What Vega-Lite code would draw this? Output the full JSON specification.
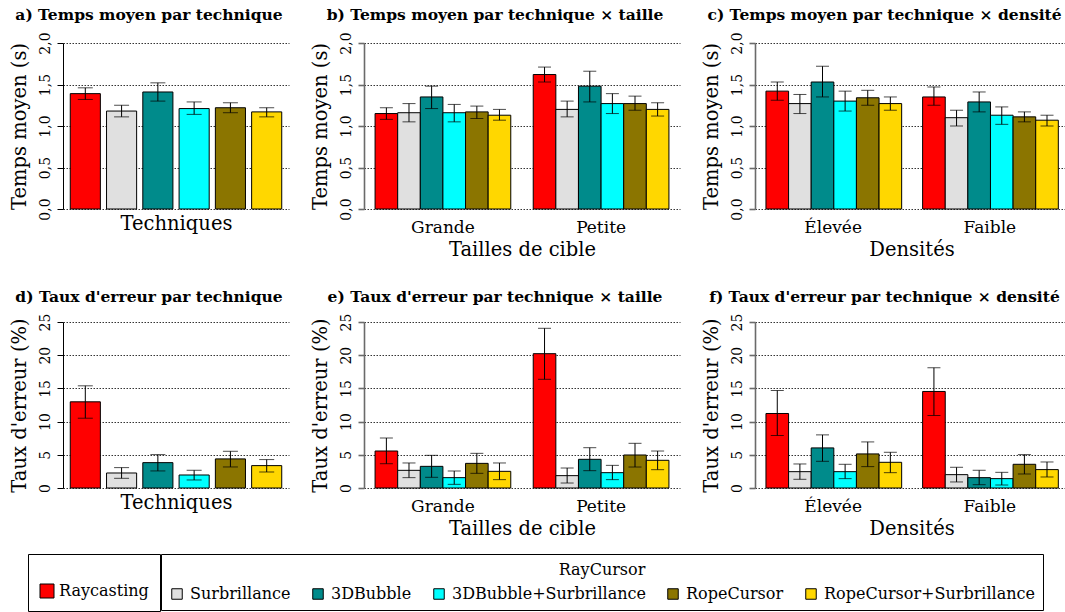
{
  "$schema": "https://vega.github.io/schema/vega-lite/v6.json",
  "padding": {"left": 8, "top": 8, "right": 0, "bottom": 0},
  "spacing": 30,
  "data": {"values": [
    {"panel": "a", "group": "Toutes", "technique": "Raycasting", "mean": 1.39, "lo": 1.32, "hi": 1.46},
    {"panel": "a", "group": "Toutes", "technique": "Surbrillance", "mean": 1.18, "lo": 1.11, "hi": 1.25},
    {"panel": "a", "group": "Toutes", "technique": "3DBubble", "mean": 1.41, "lo": 1.30, "hi": 1.52},
    {"panel": "a", "group": "Toutes", "technique": "3DBubble+Surbrillance", "mean": 1.21, "lo": 1.14, "hi": 1.29},
    {"panel": "a", "group": "Toutes", "technique": "RopeCursor", "mean": 1.22, "lo": 1.16, "hi": 1.28},
    {"panel": "a", "group": "Toutes", "technique": "RopeCursor+Surbrillance", "mean": 1.17, "lo": 1.11, "hi": 1.22},
    {"panel": "b", "group": "Grande", "technique": "Raycasting", "mean": 1.15, "lo": 1.08, "hi": 1.22},
    {"panel": "b", "group": "Grande", "technique": "Surbrillance", "mean": 1.16, "lo": 1.05, "hi": 1.27},
    {"panel": "b", "group": "Grande", "technique": "3DBubble", "mean": 1.35, "lo": 1.21, "hi": 1.48},
    {"panel": "b", "group": "Grande", "technique": "3DBubble+Surbrillance", "mean": 1.16, "lo": 1.05, "hi": 1.26},
    {"panel": "b", "group": "Grande", "technique": "RopeCursor", "mean": 1.17, "lo": 1.09, "hi": 1.24},
    {"panel": "b", "group": "Grande", "technique": "RopeCursor+Surbrillance", "mean": 1.13, "lo": 1.07, "hi": 1.20},
    {"panel": "b", "group": "Petite", "technique": "Raycasting", "mean": 1.62, "lo": 1.53, "hi": 1.71},
    {"panel": "b", "group": "Petite", "technique": "Surbrillance", "mean": 1.20, "lo": 1.11, "hi": 1.30},
    {"panel": "b", "group": "Petite", "technique": "3DBubble", "mean": 1.48, "lo": 1.29, "hi": 1.66},
    {"panel": "b", "group": "Petite", "technique": "3DBubble+Surbrillance", "mean": 1.27, "lo": 1.15, "hi": 1.39},
    {"panel": "b", "group": "Petite", "technique": "RopeCursor", "mean": 1.27, "lo": 1.19, "hi": 1.36},
    {"panel": "b", "group": "Petite", "technique": "RopeCursor+Surbrillance", "mean": 1.20, "lo": 1.12, "hi": 1.28},
    {"panel": "c", "group": "Élevée", "technique": "Raycasting", "mean": 1.42, "lo": 1.31, "hi": 1.53},
    {"panel": "c", "group": "Élevée", "technique": "Surbrillance", "mean": 1.27, "lo": 1.15, "hi": 1.38},
    {"panel": "c", "group": "Élevée", "technique": "3DBubble", "mean": 1.53, "lo": 1.35, "hi": 1.72},
    {"panel": "c", "group": "Élevée", "technique": "3DBubble+Surbrillance", "mean": 1.30, "lo": 1.18, "hi": 1.42},
    {"panel": "c", "group": "Élevée", "technique": "RopeCursor", "mean": 1.34, "lo": 1.25, "hi": 1.43},
    {"panel": "c", "group": "Élevée", "technique": "RopeCursor+Surbrillance", "mean": 1.27, "lo": 1.19, "hi": 1.35},
    {"panel": "c", "group": "Faible", "technique": "Raycasting", "mean": 1.35, "lo": 1.25, "hi": 1.47},
    {"panel": "c", "group": "Faible", "technique": "Surbrillance", "mean": 1.10, "lo": 1.00, "hi": 1.19},
    {"panel": "c", "group": "Faible", "technique": "3DBubble", "mean": 1.29, "lo": 1.17, "hi": 1.41},
    {"panel": "c", "group": "Faible", "technique": "3DBubble+Surbrillance", "mean": 1.13, "lo": 1.02, "hi": 1.23},
    {"panel": "c", "group": "Faible", "technique": "RopeCursor", "mean": 1.11, "lo": 1.05, "hi": 1.17},
    {"panel": "c", "group": "Faible", "technique": "RopeCursor+Surbrillance", "mean": 1.07, "lo": 1.00, "hi": 1.13},
    {"panel": "d", "group": "Toutes", "technique": "Raycasting", "mean": 12.98, "lo": 10.51, "hi": 15.39},
    {"panel": "d", "group": "Toutes", "technique": "Surbrillance", "mean": 2.26, "lo": 1.46, "hi": 3.07},
    {"panel": "d", "group": "Toutes", "technique": "3DBubble", "mean": 3.82, "lo": 2.57, "hi": 5.03},
    {"panel": "d", "group": "Toutes", "technique": "3DBubble+Surbrillance", "mean": 1.96, "lo": 1.21, "hi": 2.67},
    {"panel": "d", "group": "Toutes", "technique": "RopeCursor", "mean": 4.38, "lo": 3.17, "hi": 5.53},
    {"panel": "d", "group": "Toutes", "technique": "RopeCursor+Surbrillance", "mean": 3.37, "lo": 2.41, "hi": 4.28},
    {"panel": "e", "group": "Grande", "technique": "Raycasting", "mean": 5.57, "lo": 3.66, "hi": 7.53},
    {"panel": "e", "group": "Grande", "technique": "Surbrillance", "mean": 2.66, "lo": 1.56, "hi": 3.77},
    {"panel": "e", "group": "Grande", "technique": "3DBubble", "mean": 3.26, "lo": 1.61, "hi": 4.92},
    {"panel": "e", "group": "Grande", "technique": "3DBubble+Surbrillance", "mean": 1.56, "lo": 0.55, "hi": 2.56},
    {"panel": "e", "group": "Grande", "technique": "RopeCursor", "mean": 3.71, "lo": 2.21, "hi": 5.22},
    {"panel": "e", "group": "Grande", "technique": "RopeCursor+Surbrillance", "mean": 2.51, "lo": 1.26, "hi": 3.77},
    {"panel": "e", "group": "Petite", "technique": "Raycasting", "mean": 20.23, "lo": 16.37, "hi": 24.05},
    {"panel": "e", "group": "Petite", "technique": "Surbrillance", "mean": 1.86, "lo": 0.75, "hi": 3.01},
    {"panel": "e", "group": "Petite", "technique": "3DBubble", "mean": 4.32, "lo": 2.61, "hi": 6.07},
    {"panel": "e", "group": "Petite", "technique": "3DBubble+Surbrillance", "mean": 2.31, "lo": 1.26, "hi": 3.41},
    {"panel": "e", "group": "Petite", "technique": "RopeCursor", "mean": 4.97, "lo": 3.16, "hi": 6.73},
    {"panel": "e", "group": "Petite", "technique": "RopeCursor+Surbrillance", "mean": 4.17, "lo": 2.76, "hi": 5.57},
    {"panel": "f", "group": "Élevée", "technique": "Raycasting", "mean": 11.22, "lo": 7.90, "hi": 14.69},
    {"panel": "f", "group": "Élevée", "technique": "Surbrillance", "mean": 2.46, "lo": 1.31, "hi": 3.62},
    {"panel": "f", "group": "Élevée", "technique": "3DBubble", "mean": 6.04, "lo": 4.02, "hi": 8.00},
    {"panel": "f", "group": "Élevée", "technique": "3DBubble+Surbrillance", "mean": 2.46, "lo": 1.41, "hi": 3.57},
    {"panel": "f", "group": "Élevée", "technique": "RopeCursor", "mean": 5.13, "lo": 3.22, "hi": 6.94},
    {"panel": "f", "group": "Élevée", "technique": "RopeCursor+Surbrillance", "mean": 3.87, "lo": 2.31, "hi": 5.38},
    {"panel": "f", "group": "Faible", "technique": "Raycasting", "mean": 14.54, "lo": 10.92, "hi": 18.11},
    {"panel": "f", "group": "Faible", "technique": "Surbrillance", "mean": 2.01, "lo": 0.91, "hi": 3.12},
    {"panel": "f", "group": "Faible", "technique": "3DBubble", "mean": 1.56, "lo": 0.50, "hi": 2.67},
    {"panel": "f", "group": "Faible", "technique": "3DBubble+Surbrillance", "mean": 1.41, "lo": 0.45, "hi": 2.36},
    {"panel": "f", "group": "Faible", "technique": "RopeCursor", "mean": 3.57, "lo": 2.11, "hi": 5.03},
    {"panel": "f", "group": "Faible", "technique": "RopeCursor+Surbrillance", "mean": 2.77, "lo": 1.66, "hi": 3.92}
  ]},
  "vconcat": [
    {"spacing": 20, "hconcat": [
      {
        "title": "a) Temps moyen par technique",
        "width": 226, "height": 166,
        "transform": [{"filter": "datum.panel == 'a'"}],
        "encoding": {
          "x": {"field": "technique", "type": "nominal", "scale": {"domain": ["Raycasting", "Surbrillance", "3DBubble", "3DBubble+Surbrillance", "RopeCursor", "RopeCursor+Surbrillance"], "paddingInner": 0.17, "paddingOuter": 0.2}, "axis": {"title": "Techniques", "labels": false, "titlePadding": 5}}
        },
        "layer": [
          {"transform": [{"filter": "datum.technique == 'Raycasting'"}], "mark": {"type": "bar", "stroke": "black", "strokeWidth": 1},
           "encoding": {"y": {"field": "mean", "type": "quantitative", "title": "Temps moyen (s)", "scale": {"domain": [0, 2]}, "axis": {"values": [0, 0.5, 1, 1.5, 2], "labelExpr": "replace(format(datum.value, '.1f'), '.', ',')"}},
             "fill": {"field": "technique", "type": "nominal", "scale": {"domain": ["Raycasting"], "range": ["#FF0000"]}, "legend": {"orient": "none", "legendX": -35, "legendY": 511, "title": " ", "padding": 11, "titlePadding": 2, "symbolSize": 196, "labelOffset": 4}}}},
          {"transform": [{"filter": "datum.technique != 'Raycasting'"}], "mark": {"type": "bar", "stroke": "black", "strokeWidth": 1},
           "encoding": {"y": {"field": "mean", "type": "quantitative", "title": "Temps moyen (s)", "scale": {"domain": [0, 2]}, "axis": {"values": [0, 0.5, 1, 1.5, 2], "labelExpr": "replace(format(datum.value, '.1f'), '.', ',')"}},
             "color": {"field": "technique", "type": "nominal", "scale": {"domain": ["Surbrillance", "3DBubble", "3DBubble+Surbrillance", "RopeCursor", "RopeCursor+Surbrillance"], "range": ["#E0E0E0", "#008B8B", "#00FFFF", "#8B7500", "#FFD700"]}, "legend": {"orient": "none", "legendX": 98, "legendY": 511, "title": "RayCursor", "direction": "horizontal", "columns": 5}}}},
          {"mark": {"type": "rule", "color": "black", "strokeWidth": 1}, "encoding": {"y": {"field": "lo", "type": "quantitative", "title": "Temps moyen (s)", "scale": {"domain": [0, 2]}, "axis": {"values": [0, 0.5, 1, 1.5, 2], "labelExpr": "replace(format(datum.value, '.1f'), '.', ',')"}}, "y2": {"field": "hi"}}},
          {"mark": {"type": "tick", "color": "black", "size": 15, "thickness": 1}, "encoding": {"y": {"field": "lo", "type": "quantitative", "title": "Temps moyen (s)", "scale": {"domain": [0, 2]}, "axis": {"values": [0, 0.5, 1, 1.5, 2], "labelExpr": "replace(format(datum.value, '.1f'), '.', ',')"}}}},
          {"mark": {"type": "tick", "color": "black", "size": 15, "thickness": 1}, "encoding": {"y": {"field": "hi", "type": "quantitative", "title": "Temps moyen (s)", "scale": {"domain": [0, 2]}, "axis": {"values": [0, 0.5, 1, 1.5, 2], "labelExpr": "replace(format(datum.value, '.1f'), '.', ',')"}}}}
        ]
      },
      {
        "title": "b) Temps moyen par technique × taille",
        "width": 316, "height": 166,
        "transform": [{"filter": "datum.panel == 'b'"}],
        "encoding": {
          "x": {"field": "group", "type": "nominal", "scale": {"domain": ["Grande", "Petite"], "paddingInner": 0.142, "paddingOuter": 0.07}, "axis": {"title": "Tailles de cible"}},
          "xOffset": {"field": "technique", "type": "nominal", "scale": {"domain": ["Raycasting", "Surbrillance", "3DBubble", "3DBubble+Surbrillance", "RopeCursor", "RopeCursor+Surbrillance"], "paddingInner": 0, "paddingOuter": 0}}
        },
        "layer": [
          {"transform": [{"filter": "datum.technique == 'Raycasting'"}], "mark": {"type": "bar", "stroke": "black", "strokeWidth": 1},
           "encoding": {"y": {"field": "mean", "type": "quantitative", "title": "Temps moyen (s)", "scale": {"domain": [0, 2]}, "axis": {"values": [0, 0.5, 1, 1.5, 2], "labelExpr": "replace(format(datum.value, '.1f'), '.', ',')", "domainColor": "#6a6a6a", "tickColor": "#6a6a6a", "domainWidth": 1.6, "tickWidth": 1.6}},
             "fill": {"field": "technique", "type": "nominal", "scale": {"domain": ["Raycasting"], "range": ["#FF0000"]}, "legend": {"orient": "none", "legendX": -35, "legendY": 511, "title": " ", "padding": 11, "titlePadding": 2, "symbolSize": 196, "labelOffset": 4}}}},
          {"transform": [{"filter": "datum.technique != 'Raycasting'"}], "mark": {"type": "bar", "stroke": "black", "strokeWidth": 1},
           "encoding": {"y": {"field": "mean", "type": "quantitative", "title": "Temps moyen (s)", "scale": {"domain": [0, 2]}, "axis": {"values": [0, 0.5, 1, 1.5, 2], "labelExpr": "replace(format(datum.value, '.1f'), '.', ',')", "domainColor": "#6a6a6a", "tickColor": "#6a6a6a", "domainWidth": 1.6, "tickWidth": 1.6}},
             "color": {"field": "technique", "type": "nominal", "scale": {"domain": ["Surbrillance", "3DBubble", "3DBubble+Surbrillance", "RopeCursor", "RopeCursor+Surbrillance"], "range": ["#E0E0E0", "#008B8B", "#00FFFF", "#8B7500", "#FFD700"]}, "legend": {"orient": "none", "legendX": 98, "legendY": 511, "title": "RayCursor", "direction": "horizontal", "columns": 5}}}},
          {"mark": {"type": "rule", "color": "black", "strokeWidth": 1}, "encoding": {"y": {"field": "lo", "type": "quantitative", "title": "Temps moyen (s)", "scale": {"domain": [0, 2]}, "axis": {"values": [0, 0.5, 1, 1.5, 2], "labelExpr": "replace(format(datum.value, '.1f'), '.', ',')", "domainColor": "#6a6a6a", "tickColor": "#6a6a6a", "domainWidth": 1.6, "tickWidth": 1.6}}, "y2": {"field": "hi"}}},
          {"mark": {"type": "tick", "color": "black", "size": 13, "thickness": 1}, "encoding": {"y": {"field": "lo", "type": "quantitative", "title": "Temps moyen (s)", "scale": {"domain": [0, 2]}, "axis": {"values": [0, 0.5, 1, 1.5, 2], "labelExpr": "replace(format(datum.value, '.1f'), '.', ',')", "domainColor": "#6a6a6a", "tickColor": "#6a6a6a", "domainWidth": 1.6, "tickWidth": 1.6}}}},
          {"mark": {"type": "tick", "color": "black", "size": 13, "thickness": 1}, "encoding": {"y": {"field": "hi", "type": "quantitative", "title": "Temps moyen (s)", "scale": {"domain": [0, 2]}, "axis": {"values": [0, 0.5, 1, 1.5, 2], "labelExpr": "replace(format(datum.value, '.1f'), '.', ',')", "domainColor": "#6a6a6a", "tickColor": "#6a6a6a", "domainWidth": 1.6, "tickWidth": 1.6}}}}
        ]
      },
      {
        "title": "c) Temps moyen par technique × densité",
        "width": 313, "height": 166,
        "transform": [{"filter": "datum.panel == 'c'"}],
        "encoding": {
          "x": {"field": "group", "type": "nominal", "scale": {"domain": ["Élevée", "Faible"], "paddingInner": 0.142, "paddingOuter": 0.07}, "axis": {"title": "Densités"}},
          "xOffset": {"field": "technique", "type": "nominal", "scale": {"domain": ["Raycasting", "Surbrillance", "3DBubble", "3DBubble+Surbrillance", "RopeCursor", "RopeCursor+Surbrillance"], "paddingInner": 0, "paddingOuter": 0}}
        },
        "layer": [
          {"transform": [{"filter": "datum.technique == 'Raycasting'"}], "mark": {"type": "bar", "stroke": "black", "strokeWidth": 1},
           "encoding": {"y": {"field": "mean", "type": "quantitative", "title": "Temps moyen (s)", "scale": {"domain": [0, 2]}, "axis": {"values": [0, 0.5, 1, 1.5, 2], "labelExpr": "replace(format(datum.value, '.1f'), '.', ',')", "domainColor": "#6a6a6a", "tickColor": "#6a6a6a", "domainWidth": 1.6, "tickWidth": 1.6}},
             "fill": {"field": "technique", "type": "nominal", "scale": {"domain": ["Raycasting"], "range": ["#FF0000"]}, "legend": {"orient": "none", "legendX": -35, "legendY": 511, "title": " ", "padding": 11, "titlePadding": 2, "symbolSize": 196, "labelOffset": 4}}}},
          {"transform": [{"filter": "datum.technique != 'Raycasting'"}], "mark": {"type": "bar", "stroke": "black", "strokeWidth": 1},
           "encoding": {"y": {"field": "mean", "type": "quantitative", "title": "Temps moyen (s)", "scale": {"domain": [0, 2]}, "axis": {"values": [0, 0.5, 1, 1.5, 2], "labelExpr": "replace(format(datum.value, '.1f'), '.', ',')", "domainColor": "#6a6a6a", "tickColor": "#6a6a6a", "domainWidth": 1.6, "tickWidth": 1.6}},
             "color": {"field": "technique", "type": "nominal", "scale": {"domain": ["Surbrillance", "3DBubble", "3DBubble+Surbrillance", "RopeCursor", "RopeCursor+Surbrillance"], "range": ["#E0E0E0", "#008B8B", "#00FFFF", "#8B7500", "#FFD700"]}, "legend": {"orient": "none", "legendX": 98, "legendY": 511, "title": "RayCursor", "direction": "horizontal", "columns": 5}}}},
          {"mark": {"type": "rule", "color": "black", "strokeWidth": 1}, "encoding": {"y": {"field": "lo", "type": "quantitative", "title": "Temps moyen (s)", "scale": {"domain": [0, 2]}, "axis": {"values": [0, 0.5, 1, 1.5, 2], "labelExpr": "replace(format(datum.value, '.1f'), '.', ',')", "domainColor": "#6a6a6a", "tickColor": "#6a6a6a", "domainWidth": 1.6, "tickWidth": 1.6}}, "y2": {"field": "hi"}}},
          {"mark": {"type": "tick", "color": "black", "size": 13, "thickness": 1}, "encoding": {"y": {"field": "lo", "type": "quantitative", "title": "Temps moyen (s)", "scale": {"domain": [0, 2]}, "axis": {"values": [0, 0.5, 1, 1.5, 2], "labelExpr": "replace(format(datum.value, '.1f'), '.', ',')", "domainColor": "#6a6a6a", "tickColor": "#6a6a6a", "domainWidth": 1.6, "tickWidth": 1.6}}}},
          {"mark": {"type": "tick", "color": "black", "size": 13, "thickness": 1}, "encoding": {"y": {"field": "hi", "type": "quantitative", "title": "Temps moyen (s)", "scale": {"domain": [0, 2]}, "axis": {"values": [0, 0.5, 1, 1.5, 2], "labelExpr": "replace(format(datum.value, '.1f'), '.', ',')", "domainColor": "#6a6a6a", "tickColor": "#6a6a6a", "domainWidth": 1.6, "tickWidth": 1.6}}}}
        ]
      }
    ]},
    {"spacing": 20, "hconcat": [
      {
        "title": "d) Taux d'erreur par technique",
        "width": 226, "height": 166,
        "transform": [{"filter": "datum.panel == 'd'"}],
        "encoding": {
          "x": {"field": "technique", "type": "nominal", "scale": {"domain": ["Raycasting", "Surbrillance", "3DBubble", "3DBubble+Surbrillance", "RopeCursor", "RopeCursor+Surbrillance"], "paddingInner": 0.17, "paddingOuter": 0.2}, "axis": {"title": "Techniques", "labels": false, "titlePadding": 5}}
        },
        "layer": [
          {"transform": [{"filter": "datum.technique == 'Raycasting'"}], "mark": {"type": "bar", "stroke": "black", "strokeWidth": 1},
           "encoding": {"y": {"field": "mean", "type": "quantitative", "title": "Taux d'erreur (%)", "scale": {"domain": [0, 25]}, "axis": {"values": [0, 5, 10, 15, 20, 25]}},
             "fill": {"field": "technique", "type": "nominal", "scale": {"domain": ["Raycasting"], "range": ["#FF0000"]}, "legend": {"orient": "none", "legendX": -35, "legendY": 511, "title": " ", "padding": 11, "titlePadding": 2, "symbolSize": 196, "labelOffset": 4}}}},
          {"transform": [{"filter": "datum.technique != 'Raycasting'"}], "mark": {"type": "bar", "stroke": "black", "strokeWidth": 1},
           "encoding": {"y": {"field": "mean", "type": "quantitative", "title": "Taux d'erreur (%)", "scale": {"domain": [0, 25]}, "axis": {"values": [0, 5, 10, 15, 20, 25]}},
             "color": {"field": "technique", "type": "nominal", "scale": {"domain": ["Surbrillance", "3DBubble", "3DBubble+Surbrillance", "RopeCursor", "RopeCursor+Surbrillance"], "range": ["#E0E0E0", "#008B8B", "#00FFFF", "#8B7500", "#FFD700"]}, "legend": {"orient": "none", "legendX": 98, "legendY": 511, "title": "RayCursor", "direction": "horizontal", "columns": 5}}}},
          {"mark": {"type": "rule", "color": "black", "strokeWidth": 1}, "encoding": {"y": {"field": "lo", "type": "quantitative", "title": "Taux d'erreur (%)", "scale": {"domain": [0, 25]}, "axis": {"values": [0, 5, 10, 15, 20, 25]}}, "y2": {"field": "hi"}}},
          {"mark": {"type": "tick", "color": "black", "size": 15, "thickness": 1}, "encoding": {"y": {"field": "lo", "type": "quantitative", "title": "Taux d'erreur (%)", "scale": {"domain": [0, 25]}, "axis": {"values": [0, 5, 10, 15, 20, 25]}}}},
          {"mark": {"type": "tick", "color": "black", "size": 15, "thickness": 1}, "encoding": {"y": {"field": "hi", "type": "quantitative", "title": "Taux d'erreur (%)", "scale": {"domain": [0, 25]}, "axis": {"values": [0, 5, 10, 15, 20, 25]}}}}
        ]
      },
      {
        "title": "e) Taux d'erreur par technique × taille",
        "width": 316, "height": 166,
        "transform": [{"filter": "datum.panel == 'e'"}],
        "encoding": {
          "x": {"field": "group", "type": "nominal", "scale": {"domain": ["Grande", "Petite"], "paddingInner": 0.142, "paddingOuter": 0.07}, "axis": {"title": "Tailles de cible"}},
          "xOffset": {"field": "technique", "type": "nominal", "scale": {"domain": ["Raycasting", "Surbrillance", "3DBubble", "3DBubble+Surbrillance", "RopeCursor", "RopeCursor+Surbrillance"], "paddingInner": 0, "paddingOuter": 0}}
        },
        "layer": [
          {"transform": [{"filter": "datum.technique == 'Raycasting'"}], "mark": {"type": "bar", "stroke": "black", "strokeWidth": 1},
           "encoding": {"y": {"field": "mean", "type": "quantitative", "title": "Taux d'erreur (%)", "scale": {"domain": [0, 25]}, "axis": {"values": [0, 5, 10, 15, 20, 25], "domainColor": "#6a6a6a", "tickColor": "#6a6a6a", "domainWidth": 1.6, "tickWidth": 1.6}},
             "fill": {"field": "technique", "type": "nominal", "scale": {"domain": ["Raycasting"], "range": ["#FF0000"]}, "legend": {"orient": "none", "legendX": -35, "legendY": 511, "title": " ", "padding": 11, "titlePadding": 2, "symbolSize": 196, "labelOffset": 4}}}},
          {"transform": [{"filter": "datum.technique != 'Raycasting'"}], "mark": {"type": "bar", "stroke": "black", "strokeWidth": 1},
           "encoding": {"y": {"field": "mean", "type": "quantitative", "title": "Taux d'erreur (%)", "scale": {"domain": [0, 25]}, "axis": {"values": [0, 5, 10, 15, 20, 25], "domainColor": "#6a6a6a", "tickColor": "#6a6a6a", "domainWidth": 1.6, "tickWidth": 1.6}},
             "color": {"field": "technique", "type": "nominal", "scale": {"domain": ["Surbrillance", "3DBubble", "3DBubble+Surbrillance", "RopeCursor", "RopeCursor+Surbrillance"], "range": ["#E0E0E0", "#008B8B", "#00FFFF", "#8B7500", "#FFD700"]}, "legend": {"orient": "none", "legendX": 98, "legendY": 511, "title": "RayCursor", "direction": "horizontal", "columns": 5}}}},
          {"mark": {"type": "rule", "color": "black", "strokeWidth": 1}, "encoding": {"y": {"field": "lo", "type": "quantitative", "title": "Taux d'erreur (%)", "scale": {"domain": [0, 25]}, "axis": {"values": [0, 5, 10, 15, 20, 25], "domainColor": "#6a6a6a", "tickColor": "#6a6a6a", "domainWidth": 1.6, "tickWidth": 1.6}}, "y2": {"field": "hi"}}},
          {"mark": {"type": "tick", "color": "black", "size": 13, "thickness": 1}, "encoding": {"y": {"field": "lo", "type": "quantitative", "title": "Taux d'erreur (%)", "scale": {"domain": [0, 25]}, "axis": {"values": [0, 5, 10, 15, 20, 25], "domainColor": "#6a6a6a", "tickColor": "#6a6a6a", "domainWidth": 1.6, "tickWidth": 1.6}}}},
          {"mark": {"type": "tick", "color": "black", "size": 13, "thickness": 1}, "encoding": {"y": {"field": "hi", "type": "quantitative", "title": "Taux d'erreur (%)", "scale": {"domain": [0, 25]}, "axis": {"values": [0, 5, 10, 15, 20, 25], "domainColor": "#6a6a6a", "tickColor": "#6a6a6a", "domainWidth": 1.6, "tickWidth": 1.6}}}}
        ]
      },
      {
        "title": "f) Taux d'erreur par technique × densité",
        "width": 313, "height": 166,
        "transform": [{"filter": "datum.panel == 'f'"}],
        "encoding": {
          "x": {"field": "group", "type": "nominal", "scale": {"domain": ["Élevée", "Faible"], "paddingInner": 0.142, "paddingOuter": 0.07}, "axis": {"title": "Densités"}},
          "xOffset": {"field": "technique", "type": "nominal", "scale": {"domain": ["Raycasting", "Surbrillance", "3DBubble", "3DBubble+Surbrillance", "RopeCursor", "RopeCursor+Surbrillance"], "paddingInner": 0, "paddingOuter": 0}}
        },
        "layer": [
          {"transform": [{"filter": "datum.technique == 'Raycasting'"}], "mark": {"type": "bar", "stroke": "black", "strokeWidth": 1},
           "encoding": {"y": {"field": "mean", "type": "quantitative", "title": "Taux d'erreur (%)", "scale": {"domain": [0, 25]}, "axis": {"values": [0, 5, 10, 15, 20, 25], "domainColor": "#6a6a6a", "tickColor": "#6a6a6a", "domainWidth": 1.6, "tickWidth": 1.6}},
             "fill": {"field": "technique", "type": "nominal", "scale": {"domain": ["Raycasting"], "range": ["#FF0000"]}, "legend": {"orient": "none", "legendX": -35, "legendY": 511, "title": " ", "padding": 11, "titlePadding": 2, "symbolSize": 196, "labelOffset": 4}}}},
          {"transform": [{"filter": "datum.technique != 'Raycasting'"}], "mark": {"type": "bar", "stroke": "black", "strokeWidth": 1},
           "encoding": {"y": {"field": "mean", "type": "quantitative", "title": "Taux d'erreur (%)", "scale": {"domain": [0, 25]}, "axis": {"values": [0, 5, 10, 15, 20, 25], "domainColor": "#6a6a6a", "tickColor": "#6a6a6a", "domainWidth": 1.6, "tickWidth": 1.6}},
             "color": {"field": "technique", "type": "nominal", "scale": {"domain": ["Surbrillance", "3DBubble", "3DBubble+Surbrillance", "RopeCursor", "RopeCursor+Surbrillance"], "range": ["#E0E0E0", "#008B8B", "#00FFFF", "#8B7500", "#FFD700"]}, "legend": {"orient": "none", "legendX": 98, "legendY": 511, "title": "RayCursor", "direction": "horizontal", "columns": 5}}}},
          {"mark": {"type": "rule", "color": "black", "strokeWidth": 1}, "encoding": {"y": {"field": "lo", "type": "quantitative", "title": "Taux d'erreur (%)", "scale": {"domain": [0, 25]}, "axis": {"values": [0, 5, 10, 15, 20, 25], "domainColor": "#6a6a6a", "tickColor": "#6a6a6a", "domainWidth": 1.6, "tickWidth": 1.6}}, "y2": {"field": "hi"}}},
          {"mark": {"type": "tick", "color": "black", "size": 13, "thickness": 1}, "encoding": {"y": {"field": "lo", "type": "quantitative", "title": "Taux d'erreur (%)", "scale": {"domain": [0, 25]}, "axis": {"values": [0, 5, 10, 15, 20, 25], "domainColor": "#6a6a6a", "tickColor": "#6a6a6a", "domainWidth": 1.6, "tickWidth": 1.6}}}},
          {"mark": {"type": "tick", "color": "black", "size": 13, "thickness": 1}, "encoding": {"y": {"field": "hi", "type": "quantitative", "title": "Taux d'erreur (%)", "scale": {"domain": [0, 25]}, "axis": {"values": [0, 5, 10, 15, 20, 25], "domainColor": "#6a6a6a", "tickColor": "#6a6a6a", "domainWidth": 1.6, "tickWidth": 1.6}}}}
        ]
      }
    ]}
  ],
  "config": {
    "font": "DejaVu Serif",
    "view": {"stroke": null},
    "axis": {"labelFont": "DejaVu Serif", "titleFont": "DejaVu Serif", "labelColor": "black", "titleColor": "black", "titleFontWeight": "normal", "labelFontSize": 17, "titleFontSize": 19.5},
    "axisY": {"grid": true, "gridColor": "black", "gridDash": [1.5, 1.5], "gridWidth": 0.8, "domainColor": "black", "tickColor": "black", "tickSize": 6, "labelAngle": -90, "labelAlign": "center", "labelBaseline": "bottom", "labelPadding": 5, "titlePadding": 9, "labelFontSize": 14, "labelOverlap": false},
    "axisX": {"ticks": false, "domain": false, "grid": false, "labelAngle": 0, "labelPadding": 10, "titlePadding": 5},
    "title": {"font": "DejaVu Serif", "fontSize": 15.5, "fontWeight": "bold", "color": "black", "anchor": "middle", "frame": "bounds", "offset": 8},
    "legend": {"labelFont": "DejaVu Serif", "labelFontSize": 16, "titleFont": "DejaVu Serif", "titleFontSize": 16, "titleFontWeight": "normal", "titleAnchor": "middle", "titleColor": "black", "labelColor": "black", "symbolType": "square", "symbolSize": 110, "symbolStrokeColor": "black", "symbolStrokeWidth": 1, "strokeColor": "black", "cornerRadius": 0, "padding": 8, "columnPadding": 19, "labelOffset": 5, "titlePadding": 8, "titleLimit": 0, "labelLimit": 0}
  }
}
